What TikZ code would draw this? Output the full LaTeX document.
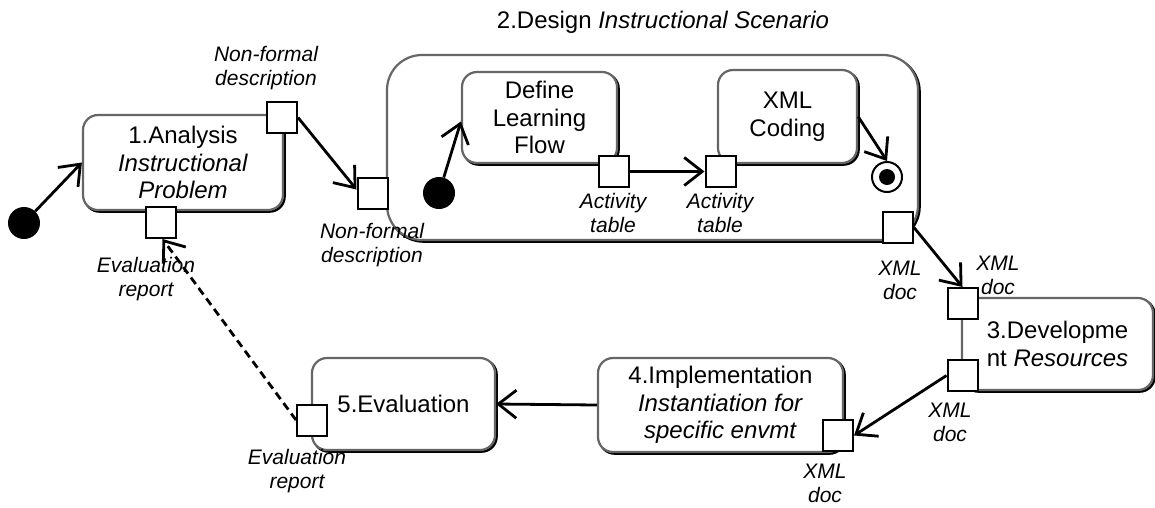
\documentclass[tikz,border=0pt]{standalone}
\usepackage{fontspec}
\setmainfont{Liberation Sans}
\usetikzlibrary{arrows.meta,shadows}
\newcommand\mainfs{\fontsize{24}{27.6}\selectfont}
\newcommand\lblfs{\fontsize{21}{24}\selectfont\itshape}
\begin{document}
\begin{tikzpicture}[x=1pt,y=-1pt,
  actbox/.style={draw=black!60, line width=2.2pt, rounded corners=15pt, fill=white,
    inner sep=0pt, align=center, font=\mainfs,
    drop shadow={shadow xshift=1.6pt, shadow yshift=-1.6pt, fill=none, draw=black,
      line width=2.4pt, opacity=1}},
  portbox/.style={draw=black, line width=2pt, fill=white, minimum width=30pt,
    minimum height=31pt, inner sep=0pt},
  lbl/.style={font=\lblfs, align=center, inner sep=0pt},
  startdot/.style={circle, fill=black, minimum size=32pt, inner sep=0pt},
  flowarrow/.style={line width=2.8pt,
    -{Straight Barb[length=18pt,width=28pt,line width=2.8pt]}},
  ]
\useasboundingbox (0,0) rectangle (1155,507);

% activities
\node[actbox, minimum width=200pt, minimum height=95pt] (analysis) at (183,162.5)
  {1.Analysis\\\textit{Instructional}\\\textit{Problem}};
\node[actbox, rounded corners=35pt, minimum width=531pt, minimum height=185pt] (design) at (652.5,147.5) {};
\node[font=\mainfs, inner sep=0pt] (designtitle) at (663,22) {2.Design \textit{Instructional Scenario}};
\node[actbox, minimum width=155pt, minimum height=91pt] (flowdef) at (539.5,117.5)
  {Define\\Learning\\Flow};
\node[actbox, minimum width=139pt, minimum height=93pt] (xmlcode) at (787.5,116.5)
  {XML\\Coding};
\node[actbox, minimum width=191pt, minimum height=92pt] (develop) at (1057.5,344)
  {3.Developme\\nt \textit{Resources}};
\node[actbox, minimum width=245pt, minimum height=94pt] (implement) at (720.5,405)
  {4.Implementation\\\textit{Instantiation for}\\\textit{specific envmt}};
\node[actbox, minimum width=183pt, minimum height=92pt] (evaluate) at (403.5,404)
  {5.Evaluation};

% initial and final nodes
\node[startdot] (start1) at (24,223) {};
\node[startdot] (start2) at (439,193) {};
\node[circle, draw=black, line width=2pt, fill=white, minimum size=30pt, inner sep=0pt] (finish) at (887,177) {};
\fill[black] (finish.center) circle (8pt);

% object pins
\node[portbox] (anaOut) at (282,117.5) {};
\node[portbox] (anaIn) at (160.5,222.5) {};
\node[portbox] (desIn) at (372.5,193.5) {};
\node[portbox] (desOut) at (898,227.5) {};
\node[portbox] (flowOut) at (614,171.5) {};
\node[portbox] (xmlIn) at (720.5,171.5) {};
\node[portbox] (devIn) at (962.5,303.5) {};
\node[portbox] (devOut) at (962.5,375.5) {};
\node[portbox] (impIn) at (838,435.5) {};
\node[portbox] (evalOut) at (312,420) {};

% pin labels
\node[lbl] (lAnaOut) at (266,68) {Non-formal\\description};
\node[lbl] (lAnaIn) at (146,279) {Evaluation\\report};
\node[lbl] (lDesIn) at (372,245) {Non-formal\\description};
\node[lbl] (lFlowOut) at (613,213) {Activity\\table};
\node[lbl] (lXmlIn) at (720,213) {Activity\\table};
\node[lbl] (lDesOut) at (900,280.5) {XML\\doc};
\node[lbl] (lDevIn) at (998,275) {XML\\doc};
\node[lbl] (lDevOut) at (950,422) {XML\\doc};
\node[lbl] (lImpIn) at (825,483) {XML\\doc};
\node[lbl] (lEvalOut) at (297,471) {Evaluation\\report};

% control and object flows
\draw[flowarrow] (start1) -- (analysis.west);
\draw[flowarrow] (anaOut.east) -- ([yshift=4pt]desIn.west);
\draw[flowarrow] (start2) -- ([yshift=-4pt]flowdef.west);
\draw[flowarrow] (flowOut.east) -- (xmlIn.west);
\draw[flowarrow] (xmlcode.east) -- (finish.north);
\draw[flowarrow] (desOut.east) -- (devIn.north);
\draw[flowarrow] (devOut.west) -- (impIn.east);
\draw[flowarrow] (implement.west) -- (evaluate.east);
\draw[flowarrow, dash pattern=on 8pt off 5pt] (evalOut.west) -- ([xshift=2pt]anaIn.south);
\end{tikzpicture}
\end{document}
